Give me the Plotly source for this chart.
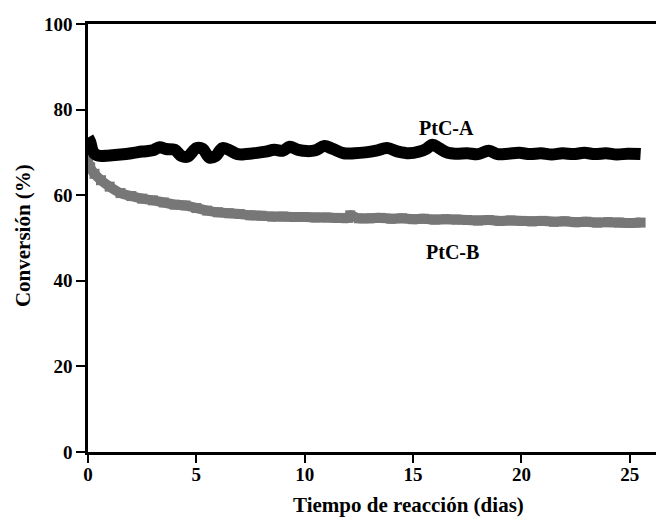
import plotly.graph_objects as go

# PtC-A (black)
days_a = [0.0, 0.1, 0.25, 0.5, 1.0, 1.5, 2.0, 2.5, 3.0, 3.3, 3.6, 4.0, 4.3, 4.6, 5.0, 5.3, 5.6, 5.9,
          6.2, 6.5, 6.9, 7.3, 7.8, 8.2, 8.6, 9.0, 9.3, 9.7, 10.1, 10.5, 10.9, 11.3, 11.8, 12.3, 12.8,
          13.3, 13.8, 14.3, 14.8, 15.3, 15.6, 15.9, 16.2, 16.6, 17.0, 17.5, 18.0, 18.5, 18.9, 19.4,
          19.9, 20.4, 20.9, 21.4, 21.9, 22.4, 22.9, 23.4, 23.9, 24.4, 24.9, 25.5]
conv_a = [73.5, 72.5, 70.0, 69.2, 69.3, 69.5, 69.8, 70.2, 70.5, 71.2, 70.8, 70.6, 69.2, 69.0, 71.0, 70.8,
          68.8, 69.2, 71.0, 70.6, 69.6, 69.6, 69.9, 70.2, 70.6, 70.4, 71.3, 70.6, 70.3, 70.5, 71.5, 70.8,
          69.8, 69.8, 70.0, 70.4, 71.0, 70.2, 69.8, 70.2, 70.8, 71.8, 71.0, 69.9, 69.7, 69.8, 69.6, 70.4,
          69.6, 69.7, 69.9, 69.6, 69.8, 69.5, 69.8, 69.6, 69.9, 69.6, 69.8, 69.5, 69.7, 69.6]

# PtC-B (grey)
days_b = [0.0, 0.1, 0.3, 0.6, 1.0, 1.5, 2.0, 2.5, 3.0, 3.5, 4.0, 4.5, 5.0, 5.5, 6.0, 6.5, 7.0, 7.5,
          8.0, 8.5, 9.0, 9.5, 10.0, 10.5, 11.0, 11.5, 12.0, 12.1, 12.5, 13.0, 13.5, 14.0, 14.5, 15.0,
          15.5, 16.0, 16.5, 17.0, 17.5, 18.0, 18.5, 19.0, 19.5, 20.0, 20.5, 21.0, 21.5, 22.0, 22.5,
          23.0, 23.5, 24.0, 24.5, 25.0, 25.5]
conv_b = [68.0, 66.5, 65.0, 63.5, 62.0, 60.5, 59.8, 59.2, 58.8, 58.3, 57.8, 57.6, 57.0, 56.4, 56.0,
          55.8, 55.6, 55.3, 55.2, 55.0, 55.0, 54.9, 54.9, 54.8, 54.8, 54.7, 54.7, 55.3, 54.6, 54.6,
          54.7, 54.5, 54.6, 54.4, 54.5, 54.3, 54.4, 54.3, 54.2, 54.1, 54.2, 54.0, 54.1, 54.0, 53.9,
          54.0, 53.8, 53.9, 53.7, 53.8, 53.6, 53.7, 53.6, 53.5, 53.6]

x_ticks = [0, 5, 10, 15, 20, 25]
y_ticks = [0, 20, 40, 60, 80, 100]

FONT = "Liberation Serif"

fig = go.Figure()
fig.add_trace(go.Scatter(x=days_b, y=conv_b, mode="lines+markers",
                         line=dict(color="#777777", width=10, shape="spline"),
                         marker=dict(symbol="square", size=10, color="#777777"), showlegend=False))
fig.add_trace(go.Scatter(x=days_a, y=conv_a, mode="lines",
                         line=dict(color="#000000", width=12, shape="spline"), showlegend=False))

fig.add_annotation(x=16.56, y=75.7, xref="x", yref="y", text="<b>PtC-A</b>", showarrow=False,
                   font=dict(family=FONT, size=20, color="black"))
fig.add_annotation(x=16.8, y=46.7, xref="x", yref="y", text="<b>PtC-B</b>", showarrow=False,
                   font=dict(family=FONT, size=20, color="black"))
fig.add_annotation(x=0.5556, y=-0.1238, xref="paper", yref="paper", text="<b>Tiempo de reacción (dias)</b>",
                   showarrow=False, xanchor="center", yanchor="middle",
                   font=dict(family=FONT, size=21, color="black"))
fig.add_annotation(x=-0.1125, y=0.505, xref="paper", yref="paper", text="<b>Conversión (%)</b>", textangle=-90,
                   showarrow=False, xanchor="center", yanchor="middle",
                   font=dict(family=FONT, size=21, color="black"))

fig.update_layout(
    width=656, height=518,
    margin=dict(l=80, r=0, t=16, b=74),
    paper_bgcolor="white", plot_bgcolor="white",
    font=dict(family=FONT, color="black"),
    xaxis=dict(range=[0, 26.58], tickvals=x_ticks, ticktext=[f"<b>{v}</b>" for v in x_ticks],
               showgrid=False, zeroline=False, showline=True, linecolor="black", linewidth=2.5, mirror=True,
               ticks="outside", ticklen=8, tickwidth=2, tickcolor="black", ticklabelstandoff=-5,
               tickfont=dict(family=FONT, size=19, color="black"), automargin=False),
    yaxis=dict(range=[0, 100], tickvals=y_ticks, ticktext=[f"<b>{v}</b>" for v in y_ticks],
               showgrid=False, zeroline=False, showline=True, linecolor="black", linewidth=2.5,
               ticks="outside", ticklen=9, tickwidth=2, tickcolor="black",
               tickfont=dict(family=FONT, size=19, color="black"), automargin=False),
)

fig.write_html("out.html")
